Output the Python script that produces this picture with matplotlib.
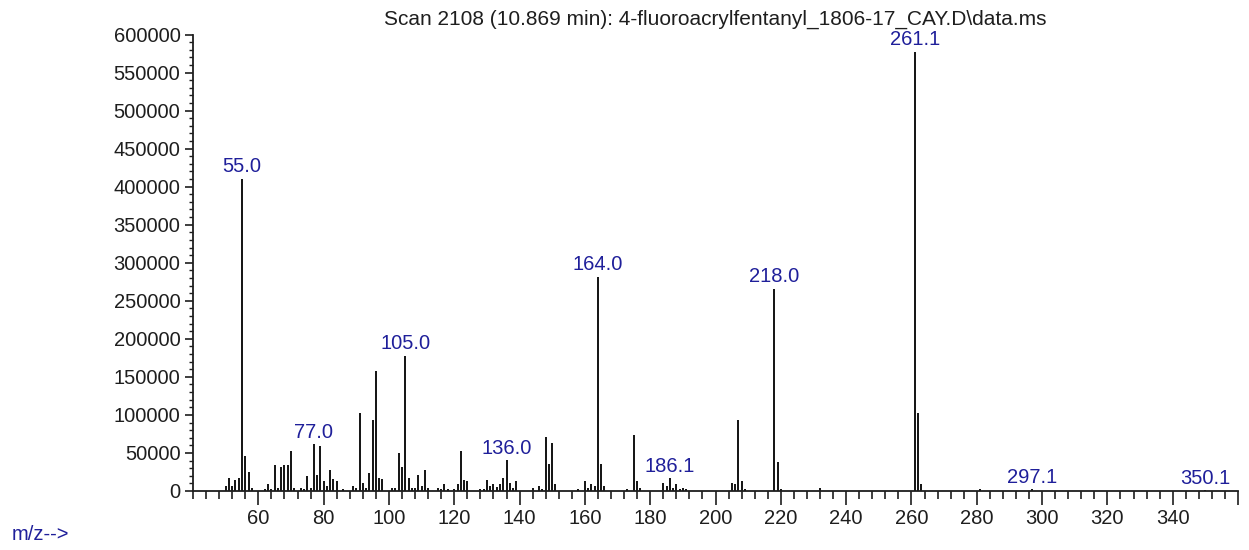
import matplotlib
matplotlib.use('Agg')
import matplotlib.pyplot as plt
from matplotlib.ticker import MultipleLocator, FormatStrFormatter

# Mass spectrum (m/z, abundance)
mz = [50, 51, 52, 53, 54, 55, 56, 57, 58,
      62, 63, 64, 65, 66, 67, 68, 69, 70, 71, 73, 74, 75, 76, 77, 78, 79,
      80, 81, 82, 83, 84, 86, 89, 90, 91, 92, 93, 94, 95, 96, 97, 98,
      101, 102, 103, 104, 105, 106, 107, 108, 109, 110, 111, 112,
      115, 116, 117, 118, 120, 121, 122, 123, 124, 128, 129, 130, 131, 132,
      133, 134, 135, 136, 137, 138, 139, 144, 146, 147, 148, 149, 150, 151,
      158, 160, 161, 162, 163, 164, 165, 166,
      173, 175, 176, 177, 184, 185, 186, 187, 188, 189, 190, 191,
      205, 206, 207, 208, 209, 218, 219, 220, 232,
      261, 262, 263, 281, 297, 350]
abundance = [6600, 16600, 6600, 14500, 16600, 410000, 46000, 25000, 4400,
             2200, 8800, 2200, 33700, 4400, 31500, 33700, 33700, 52600, 4400, 4400, 2200, 19300, 4400, 61300, 20600, 58700,
             12700, 6600, 27600, 15300, 13100, 2200, 6600, 4400, 103000, 10500, 4400, 23200, 92900, 158000, 16600, 15300,
             4400, 4400, 50400, 31500, 177500, 16600, 4400, 4400, 21000, 6600, 27600, 4400,
             4400, 2200, 8800, 2200, 2200, 8800, 52600, 14900, 12700, 2200, 2200, 14900, 6600, 8800,
             5300, 8800, 16600, 40300, 10500, 4400, 12700, 4400, 6600, 2200, 71400, 35900, 63100, 8800,
             2200, 12700, 4400, 8800, 6600, 281700, 35900, 6600,
             2200, 73600, 12700, 4400, 10500, 6600, 16600, 4400, 8800, 2200, 4400, 2200,
             10500, 8800, 92900, 12700, 2200, 265500, 38100, 2200, 4400,
             577000, 103000, 8800, 2200, 2200, 800]

label_mz = [55, 77, 105, 136, 164, 186, 218, 261, 297, 350]
label_text = ['55.0', '77.0', '105.0', '136.0', '164.0', '186.1', '218.0', '261.1', '297.1', '350.1']

title = 'Scan 2108 (10.869 min): 4-fluoroacrylfentanyl_1806-17_CAY.D\\data.ms'

plt.rcParams['font.family'] = ['Liberation Sans', 'DejaVu Sans']

BLUE = '#1f1f9a'
INK = '#1e1e1e'

fig = plt.figure(figsize=(12.49, 5.5), dpi=100)
ax = fig.add_axes([193 / 1249, 59 / 550, 1045 / 1249, 456.5 / 550])

ax.vlines(mz, 0, abundance, color='black', linewidth=1.3)

# peak labels sit just above the peak tops
height = dict(zip(mz, abundance))
for m, txt in zip(label_mz, label_text):
    ax.annotate(txt, (m, height[m]), xytext=(0, 2), textcoords='offset points',
                ha='center', va='bottom', color=BLUE, fontsize=14.5)

ax.set_xlim(40, 360)
ax.set_ylim(0, 600000)

xt = list(range(60, 361, 20))
ax.set_xticks(xt)
ax.set_xticklabels([str(v) if v < 360 else '' for v in xt])
ax.xaxis.set_minor_locator(MultipleLocator(4))
ax.yaxis.set_major_locator(MultipleLocator(50000))
ax.yaxis.set_minor_locator(MultipleLocator(10000))
ax.yaxis.set_major_formatter(FormatStrFormatter('%d'))

ax.tick_params(axis='x', which='major', length=10, width=1.2, pad=3, labelsize=14.5, colors=INK)
ax.tick_params(axis='x', which='minor', length=6, width=1.2, colors=INK)
ax.tick_params(axis='y', which='major', length=6, width=1.2, pad=3, labelsize=14.5, colors=INK)
ax.tick_params(axis='y', which='minor', length=3, width=1.0, colors=INK)

for side in ('top', 'right'):
    ax.spines[side].set_visible(False)
for side in ('left', 'bottom'):
    ax.spines[side].set_linewidth(1.3)
    ax.spines[side].set_color(INK)

ax.set_title(title, fontsize=15, color=INK, pad=7)
fig.text(12 / 1249, 1 - 535 / 550, 'm/z-->', color=BLUE, fontsize=14.5, va='center', ha='left')

fig.savefig('out.png', dpi=100)
